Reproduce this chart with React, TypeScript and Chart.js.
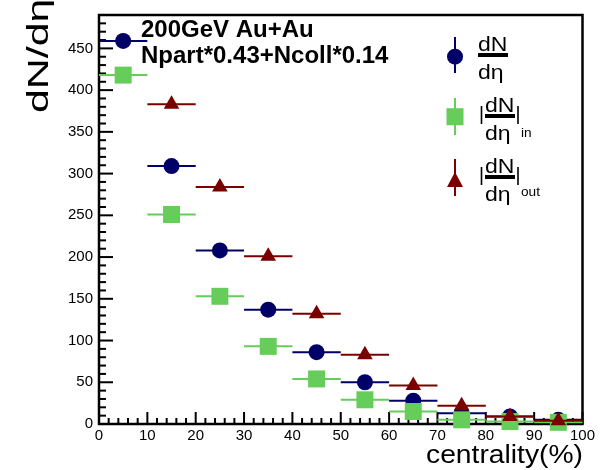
import React, { useEffect, useRef } from 'react';
import { Chart, registerables } from 'chart.js';

Chart.register(...registerables);

// ---------- data ----------
const centrality = [5, 15, 25, 35, 45, 55, 65, 75, 85, 95];
const centralityErr = [5, 5, 5, 5, 5, 5, 5, 5, 5, 5];
const dNdEta = [459, 309, 208, 137, 86, 50, 28, 13, 9, 5];
const dNdEtaIn = [418, 251, 153, 93, 54, 29, 15, 5, 3, 2];
const dNdEtaOut: (number | null)[] = [null, 383, 284, 201, 132, 83, 46, 22, 9, 4];

const xMin = 0;
const xMax = 100;
const xMajorStep = 10;
const xMinorStep = 2;
const yMin = 0;
const yMax = 490;
const yMajorStep = 50;
const yMinorStep = 10;

const titleLine1 = '200GeV Au+Au';
const titleLine2 = 'Npart*0.43+Ncoll*0.14';
const xTitle = 'centrality(%)';
const yTitle = 'dN/dη';

const NAVY = '#000066';
const GREEN = '#66cc5a';
const DARKRED = '#7a0000';

const FONT = "'Liberation Sans', Arial, Helvetica, sans-serif";

function toPoints(xs: number[], ys: (number | null)[], errs: number[]) {
  const pts: { x: number; y: number; xe: number }[] = [];
  xs.forEach((x, i) => {
    const y = ys[i];
    if (y !== null && y !== undefined) pts.push({ x, y, xe: errs[i] });
  });
  return pts;
}

const errorBarPlugin = {
  id: 'errorBars',
  beforeDatasetDraw(chart: any, args: any) {
    const ds = chart.data.datasets[args.index];
    const xs = chart.scales.x;
    const ys = chart.scales.y;
    const ctx = chart.ctx;
    ctx.save();
    ctx.strokeStyle = ds.errColor;
    ctx.lineWidth = 2;
    (ds.data as any[]).forEach((p) => {
      const py = ys.getPixelForValue(p.y);
      ctx.beginPath();
      ctx.moveTo(xs.getPixelForValue(p.x - p.xe), py);
      ctx.lineTo(xs.getPixelForValue(p.x + p.xe), py);
      ctx.stroke();
    });
    ctx.restore();
  },
};

const framePlugin = {
  id: 'frame',
  beforeDatasetsDraw(chart: any) {
    const { ctx, chartArea } = chart;
    const xs = chart.scales.x;
    const ys = chart.scales.y;
    const { left, right, top, bottom } = chartArea;
    ctx.save();
    ctx.strokeStyle = '#000';
    ctx.lineWidth = 2;
    for (let v = xMin; v <= xMax + 1e-9; v += xMinorStep) {
      const px = xs.getPixelForValue(v);
      const major = Math.abs(v / xMajorStep - Math.round(v / xMajorStep)) < 1e-6;
      const len = major ? 12 : 6;
      ctx.beginPath();
      ctx.moveTo(px, bottom);
      ctx.lineTo(px, bottom - len);
      ctx.stroke();
    }
    for (let v = yMin; v <= yMax + 1e-9; v += yMinorStep) {
      const py = ys.getPixelForValue(v);
      const major = Math.abs(v / yMajorStep - Math.round(v / yMajorStep)) < 1e-6;
      const len = major ? 14 : 7;
      ctx.beginPath();
      ctx.moveTo(left, py);
      ctx.lineTo(left + len, py);
      ctx.stroke();
    }
    ctx.lineWidth = 2.5;
    ctx.strokeRect(left, top, right - left, bottom - top);
    ctx.restore();
  },
};

function drawScaledText(ctx: CanvasRenderingContext2D, text: string, x: number, y: number, font: string, sx: number, align: CanvasTextAlign = 'left') {
  ctx.save();
  ctx.translate(x, y);
  ctx.scale(sx, 1);
  ctx.font = font;
  ctx.textAlign = align;
  ctx.textBaseline = 'alphabetic';
  ctx.fillText(text, 0, 0);
  ctx.restore();
}

const annotPlugin = {
  id: 'annot',
  afterDraw(chart: any) {
    const ctx: CanvasRenderingContext2D = chart.ctx;
    ctx.save();
    ctx.fillStyle = '#000';

    drawScaledText(ctx, titleLine1, 141, 36.5, `bold 24px ${FONT}`, 1.0);
    drawScaledText(ctx, titleLine2, 141, 62.5, `bold 24px ${FONT}`, 1.0);

    drawScaledText(ctx, xTitle, 583, 463, `25px ${FONT}`, 1.13, 'right');

    ctx.save();
    ctx.translate(48, 113);
    ctx.rotate(-Math.PI / 2);
    ctx.scale(1.43, 1);
    ctx.font = `30px ${FONT}`;
    ctx.textAlign = 'left';
    ctx.textBaseline = 'alphabetic';
    ctx.fillText(yTitle, 0, 0);
    ctx.restore();

    const mx = 455;
    ctx.strokeStyle = NAVY;
    ctx.fillStyle = NAVY;
    ctx.lineWidth = 2;
    ctx.beginPath();
    ctx.moveTo(mx, 37);
    ctx.lineTo(mx, 73);
    ctx.stroke();
    ctx.beginPath();
    ctx.arc(mx, 56.7, 8, 0, Math.PI * 2);
    ctx.fill();

    ctx.strokeStyle = GREEN;
    ctx.fillStyle = GREEN;
    ctx.beginPath();
    ctx.moveTo(mx, 98);
    ctx.lineTo(mx, 135);
    ctx.stroke();
    ctx.fillRect(mx - 8.5, 116.7 - 8.5, 17, 17);

    ctx.strokeStyle = DARKRED;
    ctx.fillStyle = DARKRED;
    ctx.beginPath();
    ctx.moveTo(mx, 159);
    ctx.lineTo(mx, 196);
    ctx.stroke();
    ctx.beginPath();
    ctx.moveTo(mx, 172);
    ctx.lineTo(mx + 8, 187);
    ctx.lineTo(mx - 8, 187);
    ctx.closePath();
    ctx.fill();

    ctx.fillStyle = '#000';
    ctx.strokeStyle = '#000';
    const frac = (x0: number, barY: number) => {
      drawScaledText(ctx, 'dN', x0, barY - 4, `20px ${FONT}`, 1.15);
      ctx.fillRect(x0, barY - 2, 30, 4);
      drawScaledText(ctx, 'dη', x0, barY + 24, `20px ${FONT}`, 1.15);
    };
    frac(478, 55);
    frac(485, 116);
    frac(485, 177);
    ctx.lineWidth = 1.6;
    const bars = (xl: number, xr: number, y0: number, y1: number) => {
      ctx.beginPath();
      ctx.moveTo(xl, y0);
      ctx.lineTo(xl, y1);
      ctx.moveTo(xr, y0);
      ctx.lineTo(xr, y1);
      ctx.stroke();
    };
    bars(481.5, 518, 106, 124);
    bars(481.5, 518, 167, 185);
    drawScaledText(ctx, 'in', 521, 136.5, `13px ${FONT}`, 1.05);
    drawScaledText(ctx, 'out', 521, 196, `13px ${FONT}`, 1.05);

    ctx.restore();
  },
};

export default function App() {
  const ref = useRef<HTMLCanvasElement | null>(null);

  useEffect(() => {
    if (!ref.current) return;
    const chart = new Chart(ref.current, {
      type: 'scatter',
      data: {
        datasets: [
          {
            label: 'dN/dη',
            data: toPoints(centrality, dNdEta, centralityErr),
            pointStyle: 'circle',
            pointRadius: 8,
            pointHoverRadius: 8,
            backgroundColor: NAVY,
            borderColor: NAVY,
            borderWidth: 0,
            order: 3,
            clip: false,
            errColor: NAVY,
          } as any,
          {
            label: 'dN/dη in',
            data: toPoints(centrality, dNdEtaIn, centralityErr),
            pointStyle: 'rect',
            pointRadius: 12,
            pointHoverRadius: 12,
            backgroundColor: GREEN,
            borderColor: GREEN,
            borderWidth: 0,
            order: 2,
            clip: false,
            errColor: GREEN,
          } as any,
          {
            label: 'dN/dη out',
            data: toPoints(centrality, dNdEtaOut, centralityErr),
            pointStyle: 'triangle',
            pointRadius: 9,
            pointHoverRadius: 9,
            backgroundColor: DARKRED,
            borderColor: DARKRED,
            borderWidth: 0,
            order: 1,
            clip: false,
            errColor: DARKRED,
          } as any,
        ],
      },
      options: {
        animation: false,
        responsive: false,
        maintainAspectRatio: false,
        events: [],
        layout: { padding: { top: 8, right: 33.5, left: 0, bottom: 0 } },
        plugins: {
          legend: { display: false },
          tooltip: { enabled: false },
          title: { display: false },
        },
        scales: {
          x: {
            type: 'linear',
            position: 'bottom',
            min: xMin,
            max: xMax,
            grid: { display: false, drawTicks: false },
            border: { display: false },
            ticks: {
              stepSize: xMajorStep,
              padding: 3,
              color: '#000',
              maxRotation: 0,
              autoSkip: false,
              font: { family: FONT, size: 15 },
            },
            afterFit: (s: any) => {
              s.height = 46;
            },
          },
          y: {
            type: 'linear',
            position: 'left',
            min: yMin,
            max: yMax,
            grid: { display: false, drawTicks: false },
            border: { display: false },
            ticks: {
              stepSize: yMajorStep,
              padding: 6,
              color: '#000',
              autoSkip: false,
              font: { family: FONT, size: 15 },
            },
            afterBuildTicks: (s: any) => {
              s.ticks = s.ticks.filter((t: any) => t.value % yMajorStep === 0);
            },
            afterFit: (s: any) => {
              s.width = 99;
            },
          },
        },
      },
      plugins: [framePlugin, errorBarPlugin, annotPlugin],
    } as any);
    return () => chart.destroy();
  }, []);

  return (
    <div style={{ position: 'fixed', left: 0, top: 0, width: 616, height: 470, background: '#fff' }}>
      <canvas ref={ref} width={616} height={470} style={{ display: 'block', width: 616, height: 470 }} />
    </div>
  );
}
